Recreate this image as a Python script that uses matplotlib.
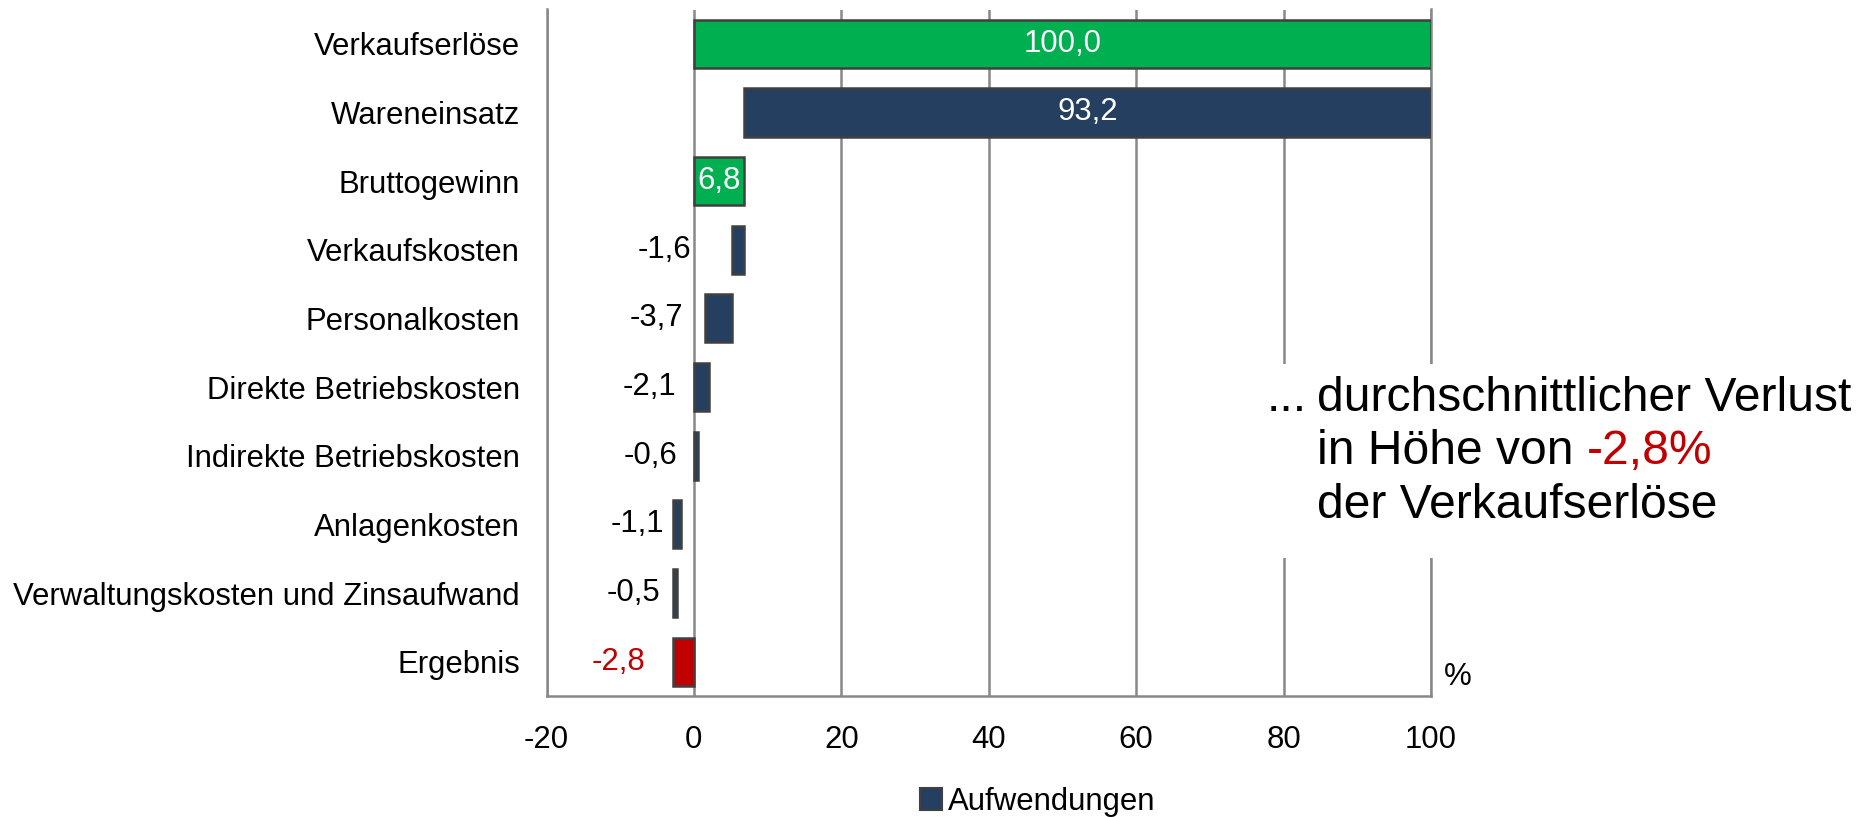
import matplotlib
matplotlib.use("Agg")
import matplotlib.pyplot as plt
from matplotlib.patches import Patch, Rectangle

plt.rcParams["font.family"] = ["Liberation Sans", "DejaVu Sans"]

# Waterfall of the income statement, in % of sales
kategorien = [
    "Verkaufserlöse",
    "Wareneinsatz",
    "Bruttogewinn",
    "Verkaufskosten",
    "Personalkosten",
    "Direkte Betriebskosten",
    "Indirekte Betriebskosten",
    "Anlagenkosten",
    "Verwaltungskosten und Zinsaufwand",
    "Ergebnis",
]
werte = [100.0, 93.2, 6.8, -1.6, -3.7, -2.1, -0.6, -1.1, -0.5, -2.8]
basis = [0.0, 6.8, 0.0, 5.2, 1.5, 0.0, 0.0, -2.8, -2.8, -2.8]
art = ["summe", "aufwand", "summe", "aufwand", "aufwand", "aufwand",
       "aufwand", "aufwand", "aufwand", "ergebnis"]
xticks = [-20, 0, 20, 40, 60, 80, 100]

GRUEN = "#00B050"
NAVY = "#253F60"
ROT = "#C00000"
RAND = "#404040"
GITTER = "#888888"
farben = {"summe": GRUEN, "aufwand": NAVY, "ergebnis": ROT}

# anchor (right edge, data units) of the labels beside the cost bars
label_x = {3: -0.4, 4: -1.5, 5: -2.4, 6: -2.3, 7: -4.1, 8: -4.6, 9: -6.6}

W, H = 1871, 817
FS = 22.4
fig = plt.figure(figsize=(W / 100, H / 100), dpi=100)
ax = fig.add_axes([546.5 / W, 1 - 696 / H, (1431 - 546.5) / W, (696 - 9.5) / H])

y = list(range(len(kategorien)))
breiten = [abs(v) for v in werte]
ax.barh(y, breiten, left=basis, height=0.7,
        color=[farben[a] for a in art], edgecolor=RAND, linewidth=1.8, zorder=3)

ax.set_xlim(-20, 100)
ax.set_ylim(len(kategorien) - 0.5, -0.5)
ax.set_xticks(xticks)
ax.set_xticklabels([str(t) for t in xticks])
ax.set_yticks(y)
ax.set_yticklabels(kategorien)
ax.tick_params(axis="both", length=0, labelsize=FS)
ax.tick_params(axis="x", pad=21)
ax.tick_params(axis="y", pad=19)
ax.set_axisbelow(True)
ax.grid(axis="x", color=GITTER, linewidth=1.8)
ax.grid(axis="y", visible=False)
for s in ("left", "right", "bottom"):
    ax.spines[s].set_color(GITTER)
    ax.spines[s].set_linewidth(1.8)
ax.spines["top"].set_visible(False)

def fmt(v):
    return f"{v:.1f}".replace(".", ",")

for i, v in enumerate(werte):
    if art[i] == "summe" or (art[i] == "aufwand" and v > 50):
        ax.text(basis[i] + breiten[i] / 2, i, fmt(v), color="white",
                ha="center", va="center", fontsize=FS, zorder=4)
    else:
        ax.text(label_x[i], i, fmt(v), color=ROT if art[i] == "ergebnis" else "black",
                ha="right", va="center", fontsize=FS, zorder=4)

fig.text(1444 / W, 1 - 677 / H, "%", fontsize=FS, ha="left", va="center")

# white panel with the key message
fig.add_artist(Rectangle((1259 / W, 1 - 558 / H), (W - 1259) / W, (558 - 364) / H,
                         transform=fig.transFigure, facecolor="white",
                         edgecolor="none", zorder=2))
fs = 34.6
fig.text(1267 / W, 1 - 411 / H, "...", fontsize=fs, ha="left", va="baseline", zorder=3)
fig.text(1317 / W, 1 - 411 / H, "durchschnittlicher Verlust", fontsize=fs,
         ha="left", va="baseline", zorder=3)
t2 = fig.text(1317 / W, 1 - 464 / H, "in Höhe von ", fontsize=fs,
              ha="left", va="baseline", zorder=3)
fig.text(1317 / W, 1 - 518 / H, "der Verkaufserlöse", fontsize=fs,
         ha="left", va="baseline", zorder=3)
fig.canvas.draw()
bb = t2.get_window_extent()
fig.text(bb.x1 / W, 1 - 464 / H, "-2,8%", fontsize=fs, color=ROT,
         ha="left", va="baseline", zorder=3)

fig.legend(handles=[Patch(facecolor=NAVY, edgecolor=RAND, linewidth=1.5)],
           labels=["Aufwendungen"], loc="center left",
           bbox_to_anchor=(920 / W, 1 - 802 / H), frameon=False, fontsize=FS,
           handlelength=0.7, handleheight=0.7, handletextpad=0.2,
           borderpad=0, borderaxespad=0)

fig.savefig("out.png", dpi=100)
